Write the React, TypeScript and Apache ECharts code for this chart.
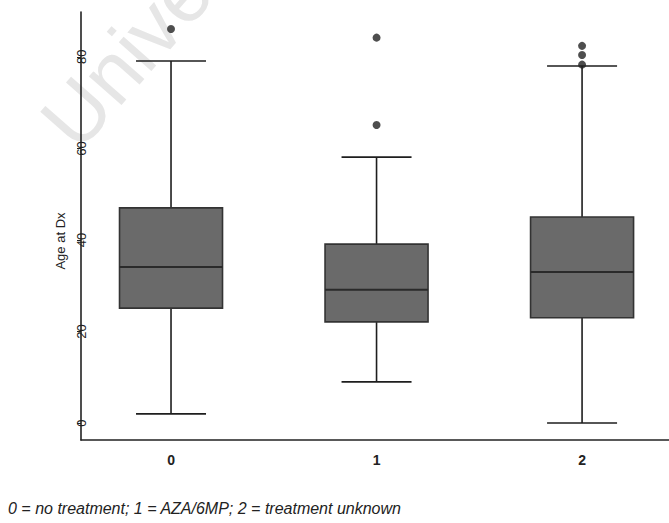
import React, { useEffect, useRef } from "react";
import * as echarts from "echarts";

const groups = [0, 1, 2];
const groupLabels = ["0", "1", "2"];
// [min, Q1, median, Q3, max]
const boxStats = [
  [2.0, 25.1, 34.1, 47.0, 79.1],
  [9.0, 22.1, 29.1, 39.1, 58.1],
  [0.0, 23.0, 33.0, 45.0, 78.0],
];
const outliers = [
  [0, 86.1],
  [1, 84.2],
  [1, 65.1],
  [2, 82.4],
  [2, 80.4],
  [2, 78.3],
];
const yTicks = [0, 20, 40, 60, 80];
const yName = "Age at Dx";
const caption = "0 = no treatment; 1 = AZA/6MP; 2 = treatment unknown";
const watermark = "Unive";

export default function App() {
  const ref = useRef<HTMLDivElement>(null);
  useEffect(() => {
    if (!ref.current) return;
    const chart = echarts.init(ref.current, undefined, { renderer: "svg" });
    const font = "'Liberation Sans', Arial, sans-serif";
    const data = groups.map((g, i) => [g, ...boxStats[i]]);
    const BOX_W = 103;
    const CAP_W = 70;
    const renderItem = (params: any, api: any) => {
      const x = api.value(0);
      const pMin = api.coord([x, api.value(1)]);
      const pQ1 = api.coord([x, api.value(2)]);
      const pMed = api.coord([x, api.value(3)]);
      const pQ3 = api.coord([x, api.value(4)]);
      const pMax = api.coord([x, api.value(5)]);
      const cx = pMin[0];
      const line = { stroke: "#1e1e1e", lineWidth: 1.6 };
      return {
        type: "group",
        children: [
          { type: "line", shape: { x1: cx, y1: pMin[1], x2: cx, y2: pQ1[1] }, style: line },
          { type: "line", shape: { x1: cx, y1: pQ3[1], x2: cx, y2: pMax[1] }, style: line },
          { type: "line", shape: { x1: cx - CAP_W / 2, y1: pMin[1], x2: cx + CAP_W / 2, y2: pMin[1] }, style: line },
          { type: "line", shape: { x1: cx - CAP_W / 2, y1: pMax[1], x2: cx + CAP_W / 2, y2: pMax[1] }, style: line },
          {
            type: "rect",
            shape: { x: cx - BOX_W / 2, y: pQ3[1], width: BOX_W, height: pQ1[1] - pQ3[1] },
            style: { fill: "#6a6a6a", stroke: "#333", lineWidth: 1.6 },
          },
          { type: "line", shape: { x1: cx - BOX_W / 2, y1: pMed[1], x2: cx + BOX_W / 2, y2: pMed[1] }, style: { stroke: "#2a2a2a", lineWidth: 2 } },
        ],
      };
    };
    chart.setOption({
      animation: false,
      backgroundColor: "#ffffff",
      grid: { left: 81, right: 0, top: 12, bottom: 83 },
      xAxis: {
        type: "value",
        min: -0.438,
        max: 2.423,
        splitLine: { show: false },
        axisLine: { show: true, onZero: false, lineStyle: { color: "#222", width: 1.6 } },
        axisTick: { show: false },
        axisLabel: {
          customValues: groups,
          formatter: (v: number) => groupLabels[Math.round(v)] ?? "",
          color: "#222",
          fontSize: 14,
          fontWeight: "bold",
          fontFamily: font,
          margin: 13,
        },
      },
      yAxis: {
        type: "value",
        min: -3.7,
        max: 89.8,
        name: yName,
        nameLocation: "middle",
        nameGap: 14,
        nameTextStyle: {
          color: "#222",
          fontSize: 13,
          fontFamily: font,
          padding: [0, 30, 0, 0],
        },
        splitLine: { show: false },
        axisLine: { show: true, onZero: false, lineStyle: { color: "#222", width: 1.6 } },
        axisTick: {
          show: true,
          customValues: yTicks,
          length: 4,
          lineStyle: { color: "#222" },
        },
        axisLabel: {
          customValues: yTicks,
          rotate: 90,
          margin: -7,
          color: "#222",
          fontSize: 13,
          fontFamily: font,
        },
      },
      graphic: [
        {
          type: "text",
          left: 8,
          top: 500,
          style: {
            text: caption,
            fontSize: 16,
            fontStyle: "italic",
            fontFamily: font,
            fill: "#222",
          },
        },
        {
          type: "text",
          x: 88,
          y: 162,
          rotation: 0.85,
          z: -10,
          style: {
            text: watermark,
            fontSize: 82,
            fontFamily: font,
            fill: "#e6e6e6",
            textVerticalAlign: "bottom",
          },
        },
      ],
      series: [
        {
          type: "custom",
          data,
          renderItem,
          z: 2,
        },
        {
          type: "scatter",
          data: outliers,
          symbol: "circle",
          symbolSize: 8,
          itemStyle: { color: "#222" },
          z: 4,
        },
      ],
    });
    return () => chart.dispose();
  }, []);
  return <div ref={ref} style={{ width: 669, height: 523, position: "absolute", left: 0, top: 0 }} />;
}
